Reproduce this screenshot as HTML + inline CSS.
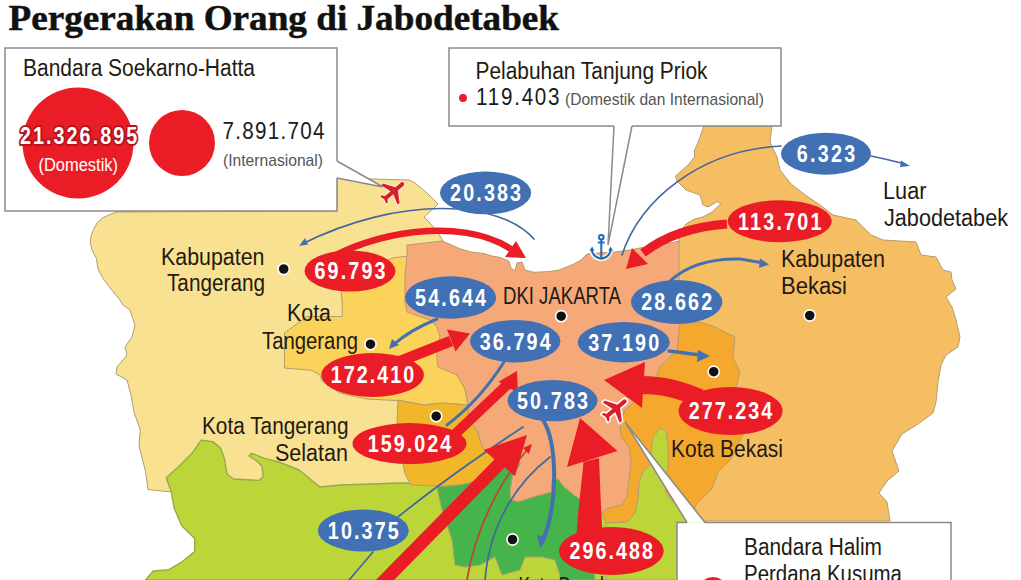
<!DOCTYPE html>
<html><head><meta charset="utf-8">
<style>
html,body{margin:0;padding:0;background:#fff;}
body{width:1021px;height:580px;overflow:hidden;position:relative;font-family:"Liberation Sans",sans-serif;}
svg{position:absolute;left:0;top:0;display:block;}
.t{font-family:"Liberation Sans",sans-serif;}
.lbl{font-family:"Liberation Sans",sans-serif;font-size:23.5px;fill:#231a12;}
.num{font-family:"Liberation Sans",sans-serif;font-weight:bold;font-size:23.5px;fill:#fff;}
</style></head>
<body>
<svg width="1021" height="580" viewBox="0 0 1021 580">
<rect width="1021" height="580" fill="#fff"/>

<!-- ============ MAP REGIONS ============ -->
<g stroke="#b49c70" stroke-width="1" stroke-linejoin="round">
<!-- Kabupaten Tangerang (light yellow) -->
<path fill="#f9e192" d="M117,212 L337,211 L337,178 L409,180 L415,183 L421,188 L428,194 L434,200 L438,204 L434,208 L424,217 L429,222 L437,231 L443,241 L470,300 L470,500 L180,500 L172,492 L148,489.5 L145.5,471.4 L141.6,455.9 L139,445.5 L140.3,430 L134,412 L131,395 L127,380 L116,374 L117,367 L127,355 L125,347 L132,337 L135,325 L130,310 L123,305 L119.7,299.8 L110,287.8 L102.4,277.4 L98,268.8 L96.4,258.4 L92,249.8 L90.3,243 L91,236 L93.8,229 L97,223 L102.4,218 L110,214.5 Z"/>
<!-- Kabupaten Bogor (lime) -->
<path fill="#bcd63a" stroke="#9aa84a" stroke-width="1.4" d="M145.5,580 L153.3,571 L168.8,569.7 L181.7,562 L194.7,551.6 L194.7,538.6 L181.7,525.7 L174,507.6 L171.4,492 L166.2,477.8 L179,466.2 L192,453.3 L201,440.3 L212.8,441.6 L220.5,448 L224.4,458.4 L227,474 L233.4,479 L259.3,480.4 L263.2,476.6 L262,466.2 L256.8,461 L249,456 L251.6,453.3 L264.5,458.4 L280,462.3 L299,470 L315,483 L320,487 L341,485 L400,483 L470,485 L600,500 L640,440 L700,500 L700,580 Z"/>
<!-- Kabupaten Bekasi (light orange) -->
<path fill="#f6be63" d="M704,126 L772,126 L770,142 L777,157 L780,170 L791,184 L808,197 L820,205 L833,215 L856,220 L871,235 L883,240 L916,242 L921,255 L936,257 L943,270 L951,272 L952,280 L956,289 L946,297 L952,307 L956,320 L960,337 L958,347 L946,355 L941,365 L938,382 L936,402 L933,413 L918,424 L902,434 L892,451 L899,471 L887,481 L879,493 L887,502 L890,521 L700,521 L640,521 L620,430 L660,330 L679,241 L680,232 L686,224 L694.5,219 L703,217 L712,212 L721,203.5 L717,201.7 L708,207 L703,205 L700,195 L686,190 L677,181 L675.5,176 L689,164 L694.5,157 L694.5,150 L697,145 Z"/>
<!-- Kota Bekasi (orange) -->
<path fill="#f5a82e" d="M680,324 L700,322 L715,327 L735,337 L733,357 L740,372 L736,388 L745,400 L745,430 L733,456 L728,462 L718,472 L712,489 L697,503 L691,517 L670,522 L645,522 L606,523 L602,513 L620,436 L620,420 L625,410 L642,395 L655,380 L660,367 L677,350 Z"/>
<!-- lime finger -->
<path fill="#bcd63a" d="M660,428 L653,437 L651,451 L652,462 L643,472 L639,482 L638,499 L635,513 L627,522 L606,523 L606,580 L690,580 L707,522 L687,517 L674,503 L666,493 L664,480 L668,468 L668,447 L666,431 Z"/>
<!-- Kota Tangerang (medium yellow) -->
<path fill="#fbd35a" d="M392,258 L408,256 L450,300 L450,370 L457,375 L465,389 L468,405 L442,403 L424,405 L408,402 L398,400.5 L385,400 L367,399 L340,393 L322,381 L319.7,374.5 L311.4,370.3 L284.5,368 L284.5,333 L307,316.5 L342.4,316.5 L342,300 L341,290 Z"/>
<!-- Kota Tangerang Selatan (gold) -->
<path fill="#f2b62a" d="M398,400 L408,402 L424,405 L442,403 L468,405 L468,417 L478,433 L481,443 L483,448 L494,459 L500,470 L480,480 L473,482 L460,485 L437,486 L411,485 L405,474 L402,460 L400,440 L397,420 Z"/>
<!-- DKI Jakarta (salmon) -->
<path fill="#f5a979" d="M407,245 L425,243 L442,241 L447,243 L460,248.8 L471,252 L484,253.5 L492,256 L500,257.4 L504,259 L509,261.3 L511,268 L515,271 L517,263 L522,262 L525,270 L534,272.3 L550,271.5 L559,270 L573,264.5 L581,260 L587,254 L591,253.5 L615,252 L630,250 L645,247 L660,245 L675,242 L679,241 L679,278 L680,324 L677,350 L660,367 L655,380 L642,395 L625,410 L620,422 L621,437 L629,447 L631,462 L629,478 L627,497 L621,505 L606,509 L602,513 L590,505 L575,496 L563,486 L558,479 L552,481 L552,492 L537,496 L518,502 L511,500 L510,492 L512,477 L520,464 L518,458 L508,467 L500,470 L494,459 L483,448 L481,443 L478,433 L468,417 L468,405 L465,389 L457,375 L438,367 L437,360 L437,347 L440,337 L437,327 L430,320 L407,312 L405,302 L405,275 L407,255 Z"/>
<!-- Kota Depok (green) -->
<path fill="#45b44b" d="M437,487 L460,485 L473,482 L480,480 L500,470 L508,467 L518,458 L520,464 L512,477 L510,492 L511,500 L518,502 L537,496 L552,492 L552,481 L558,479 L563,486 L575,496 L590,505 L595,580 L560,580 L560,575 L555,560 L542,557 L525,557 L520,570 L502,575 L495,557 L480,565 L465,567 L455,565 L452,540 L442,510 Z"/>
</g>


<!-- ============ LABELS & DOTS ============ -->
<g class="lbl">
<text x="161.0" y="265" textLength="103.5" lengthAdjust="spacingAndGlyphs">Kabupaten</text>
<text x="167.0" y="291" textLength="98.0" lengthAdjust="spacingAndGlyphs">Tangerang</text>
<text x="287.0" y="320.5" textLength="44.0" lengthAdjust="spacingAndGlyphs">Kota</text>
<text x="262.0" y="348.5" textLength="96.0" lengthAdjust="spacingAndGlyphs">Tangerang</text>
<text x="202.0" y="433.5" textLength="146.5" lengthAdjust="spacingAndGlyphs">Kota Tangerang</text>
<text x="275.0" y="461" textLength="73.0" lengthAdjust="spacingAndGlyphs">Selatan</text>
<text x="503.0" y="304" textLength="118.0" lengthAdjust="spacingAndGlyphs">DKI JAKARTA</text>
<text x="781.0" y="266.5" textLength="104.0" lengthAdjust="spacingAndGlyphs">Kabupaten</text>
<text x="781.0" y="294" textLength="66.0" lengthAdjust="spacingAndGlyphs">Bekasi</text>
<text x="671.0" y="457" textLength="112.0" lengthAdjust="spacingAndGlyphs">Kota Bekasi</text>
<text x="883.0" y="198.5" textLength="43.5" lengthAdjust="spacingAndGlyphs">Luar</text>
<text x="884.0" y="226" textLength="124.0" lengthAdjust="spacingAndGlyphs">Jabodetabek</text>
<text x="518.5" y="594" textLength="90" lengthAdjust="spacingAndGlyphs">Kota Depok</text>
</g>
<g fill="#111" stroke="#fff" stroke-width="1.6">
<circle cx="283.7" cy="269" r="5.6"/>
<circle cx="370.5" cy="344.2" r="5.6"/>
<circle cx="436.2" cy="416.2" r="5.6"/>
<circle cx="561.2" cy="316.2" r="5.6"/>
<circle cx="809.7" cy="315.5" r="5.6"/>
<circle cx="713.7" cy="371.7" r="5.6"/>
<circle cx="512.5" cy="539.5" r="5.6"/>
</g>

<!-- ============ BLUE ARROWS ============ -->
<g fill="none" stroke="#44679c" stroke-width="1.7" stroke-linecap="round">
<path d="M534,239 C500,200 400,195 302,244"/>
<path d="M622,255 C640,200 700,150 781,146"/>
<path d="M871,156 Q890,160 905,164"/>
<path d="M523,427 Q450,475 398,517"/>
<path d="M373,552 L349,580"/>
<path d="M550,457 C520,480 490,520 485,580"/>
</g>
<g fill="none" stroke="#4570b0" stroke-linecap="round">
<path d="M670,281 Q695,258 740,259 L764,263" stroke-width="3"/>
<path d="M669,351 L704,355.5" stroke-width="3.5"/>
<path d="M437,319 Q410,330 393,345" stroke-width="3"/>
<path d="M504,362 Q480,400 447,425" stroke-width="3"/>
<path d="M543,420 C556,440 560,500 542,543" stroke-width="4"/>
</g>
<g fill="#4570b0">
<polygon points="299,246 305,238 308,244.5"/>
<polygon points="910,166 901,160.5 900,167"/>
<polygon points="769,264.5 760,258.5 759,268"/>
<polygon points="710,356 698,350 697,362"/>
<polygon points="389,349 392,339 399,345"/>
<polygon points="540,548 537,535 547,537"/>
</g>

<!-- ============ RED ARROWS ============ -->
<g fill="none" stroke="#ea1d26" stroke-linecap="butt">
<path d="M322,263 C370,232 460,216 511,249" stroke-width="6.5"/>
<path d="M727,224 C700,226 670,232 643,253" stroke-width="9"/>
<path d="M393,364 L451,341" stroke-width="11"/>
<path d="M452,437 L508,384" stroke-width="10"/>
<path d="M380,585 L505,458" stroke-width="13"/>

<path d="M700,398 C680,390 665,385 640,385" stroke-width="18"/>
<path d="M467,580 C475,530 500,480 528,449" stroke="#b84a2c" stroke-width="1.8"/>
</g>
<g fill="#ea1d26">
<polygon points="526,258 516,241 505,257"/>
<polygon points="626,269 632,248 648,264"/>
<polygon points="470,333.5 447,329.5 455.5,351.5"/>
<polygon points="517,371 498.5,381.7 518,393"/>
<polygon points="527,435 483.5,450 515,476"/>
<polygon points="580,418 567,467 617.5,451"/>
<path d="M576.5,535 C578,510 582,480 583.5,462 L599,458 C600,480 601,510 602.5,535 Z"/>
<polygon points="604,380 645,362 642,408"/>
<polygon points="532,444 523,448 529,454"/>
</g>

<!-- ============ ELLIPSES ============ -->
<g fill="#ea1d26">
<ellipse cx="350" cy="271" rx="45.5" ry="20.5"/>
<ellipse cx="372.6" cy="375" rx="51.3" ry="22"/>
<ellipse cx="409.5" cy="443.6" rx="57" ry="20.5"/>
<ellipse cx="779.7" cy="221.2" rx="52" ry="21"/>
<ellipse cx="730.6" cy="411" rx="52" ry="24"/>
<ellipse cx="611.3" cy="551" rx="52.3" ry="24"/>
</g>
<g fill="#4170b5">
<ellipse cx="485.6" cy="192.9" rx="45.6" ry="21.4"/>
<ellipse cx="826" cy="153.7" rx="45" ry="21"/>
<ellipse cx="450.6" cy="297.5" rx="45.6" ry="21.2"/>
<ellipse cx="676.7" cy="302" rx="45.7" ry="21.9"/>
<ellipse cx="515.2" cy="341.2" rx="45.2" ry="21.2"/>
<ellipse cx="623.7" cy="342.2" rx="46" ry="20.2"/>
<ellipse cx="552.5" cy="400.6" rx="45" ry="20.6"/>
<ellipse cx="363.3" cy="530.5" rx="45.5" ry="21"/>
</g>
<g class="num" text-anchor="middle" font-size="23.3">
<text transform="translate(350.00,0) scale(0.84,1)" x="0" y="279.5" textLength="84.5" lengthAdjust="spacing">69.793</text>
<text transform="translate(372.60,0) scale(0.84,1)" x="0" y="383.5" textLength="99.4" lengthAdjust="spacing">172.410</text>
<text transform="translate(409.50,0) scale(0.84,1)" x="0" y="452" textLength="99.4" lengthAdjust="spacing">159.024</text>
<text transform="translate(779.70,0) scale(0.84,1)" x="0" y="229.7" textLength="99.4" lengthAdjust="spacing">113.701</text>
<text transform="translate(730.60,0) scale(0.84,1)" x="0" y="419.5" textLength="99.4" lengthAdjust="spacing">277.234</text>
<text transform="translate(611.30,0) scale(0.84,1)" x="0" y="559.5" textLength="99.4" lengthAdjust="spacing">296.488</text>
<text transform="translate(485.60,0) scale(0.84,1)" x="0" y="201.4" textLength="84.5" lengthAdjust="spacing">20.383</text>
<text transform="translate(826.00,0) scale(0.84,1)" x="0" y="162.2" textLength="69.6" lengthAdjust="spacing">6.323</text>
<text transform="translate(450.60,0) scale(0.84,1)" x="0" y="306" textLength="84.5" lengthAdjust="spacing">54.644</text>
<text transform="translate(676.70,0) scale(0.84,1)" x="0" y="310.5" textLength="84.5" lengthAdjust="spacing">28.662</text>
<text transform="translate(515.20,0) scale(0.84,1)" x="0" y="349.7" textLength="84.5" lengthAdjust="spacing">36.794</text>
<text transform="translate(623.70,0) scale(0.84,1)" x="0" y="350.7" textLength="84.5" lengthAdjust="spacing">37.190</text>
<text transform="translate(552.50,0) scale(0.84,1)" x="0" y="409.1" textLength="84.5" lengthAdjust="spacing">50.783</text>
<text transform="translate(363.30,0) scale(0.84,1)" x="0" y="539" textLength="84.5" lengthAdjust="spacing">10.375</text>
</g>

<!-- ============ ICONS ============ -->

<g transform="translate(393.5,191.5) rotate(50) scale(1.35) translate(-11.5,-12)"><path d="M21 16v-2l-8-5V3.5c0-.83-.67-1.5-1.5-1.5S10 2.67 10 3.5V9l-8 5v2l8-2.5V19l-2 1.5V22l3.5-1 3.5 1v-1.5L13 19v-5.5l8 2.5z" fill="#d8202a" stroke="#fff" stroke-width="1" paint-order="stroke"/></g>
<g transform="translate(615.5,409) rotate(50) scale(1.4) translate(-11.5,-12)"><path d="M21 16v-2l-8-5V3.5c0-.83-.67-1.5-1.5-1.5S10 2.67 10 3.5V9l-8 5v2l8-2.5V19l-2 1.5V22l3.5-1 3.5 1v-1.5L13 19v-5.5l8 2.5z" fill="#d8202a" stroke="#fff" stroke-width="2.2" paint-order="stroke" stroke-linejoin="round"/></g>
<!-- anchor -->
<g fill="none" stroke="#fff" stroke-width="5" stroke-linecap="round" stroke-linejoin="round" opacity="0.9">
<path d="M591.5,249.5 Q593,258 601,258.8 Q609,258 611,249.5"/>
</g>
<g fill="none" stroke="#1f6cb4" stroke-width="2" stroke-linecap="round" stroke-linejoin="round">
<circle cx="601.3" cy="237.3" r="2.3"/>
<line x1="601.3" y1="239.6" x2="601.3" y2="258"/>
<line x1="598.7" y1="242.4" x2="603.9" y2="242.4"/>
<path d="M591.5,249.5 Q593,257.5 601.3,258.8 Q609.5,257.5 611,249.5"/>
</g>
<g fill="#1f6cb4"><polygon points="589.6,250.5 592.2,246.5 594.2,251"/><polygon points="613,250.5 610.4,246.5 608.4,251"/></g>

<!-- ============ BOXES ============ -->
<g fill="#fff" stroke="#8a8a8a" stroke-width="1.5">
<path d="M337,161 L337,48 L5,48 L5,211 L337,211 L337,178"/>
<path d="M337,161 L383,187 L337,178" fill="#fff"/>
<path d="M614,126 L449,126 L449,48 L781,48 L781,126 L632,126"/>
<path d="M614,126 L608,245 L632,126" fill="none"/>
<path d="M687,522.5 L677,522.5 L677,600 L951,600 L951,522.5 L705,522.5"/>
<path d="M687,522.5 L625,422 L705,522.5" fill="#fff"/>
</g>

<!-- title -->
<text x="8.5" y="30" font-family="Liberation Serif" font-weight="bold" font-size="35.5" fill="#111" stroke="#111" stroke-width="0.5" textLength="550.5" lengthAdjust="spacingAndGlyphs">Pergerakan Orang di Jabodetabek</text>

<!-- box 1 content -->
<text class="lbl" x="23.0" y="76" font-size="23.5" textLength="232.0" lengthAdjust="spacingAndGlyphs">Bandara Soekarno-Hatta</text>
<circle cx="78" cy="143" r="55.5" fill="#ea1d26"/>
<circle cx="182" cy="143" r="33" fill="#ea1d26"/>
<text class="num" transform="translate(20,0) scale(0.84,1)" x="0" y="144" font-size="25" stroke="#b8141d" stroke-width="4" stroke-linejoin="round" paint-order="stroke" textLength="139.5" lengthAdjust="spacing">21.326.895</text>
<text x="38.5" y="170.5" font-size="18" fill="#fff" font-family="Liberation Sans" textLength="79.5" lengthAdjust="spacingAndGlyphs">(Domestik)</text>
<text transform="translate(222.5,0) scale(0.86,1)" x="0.0" y="139" font-size="24" fill="#1a1a1a" font-family="Liberation Sans" textLength="118.7" lengthAdjust="spacing">7.891.704</text>
<text x="223.0" y="166" font-size="17" fill="#555" font-family="Liberation Sans" textLength="100.0" lengthAdjust="spacingAndGlyphs">(Internasional)</text>

<!-- box 2 content -->
<text class="lbl" x="475.5" y="79" font-size="24" textLength="232.0" lengthAdjust="spacingAndGlyphs">Pelabuhan Tanjung Priok</text>
<circle cx="463" cy="98" r="4" fill="#ea1d26"/>
<text transform="translate(476,0) scale(0.86,1)" x="0.0" y="105.5" font-size="24" fill="#1a1a1a" font-family="Liberation Sans" textLength="97.2" lengthAdjust="spacing">119.403</text>
<text x="565" y="105" font-size="17" fill="#555" font-family="Liberation Sans" textLength="199" lengthAdjust="spacingAndGlyphs">(Domestik dan Internasional)</text>

<!-- box 3 content -->
<text class="lbl" x="744.0" y="554.5" font-size="23.5" textLength="138.0" lengthAdjust="spacingAndGlyphs">Bandara Halim</text>
<text class="lbl" x="744.0" y="582" font-size="23.5" textLength="158.0" lengthAdjust="spacingAndGlyphs">Perdana Kusuma</text>
<circle cx="713" cy="592" r="15" fill="#ea1d26"/>

</svg>
</body></html>
